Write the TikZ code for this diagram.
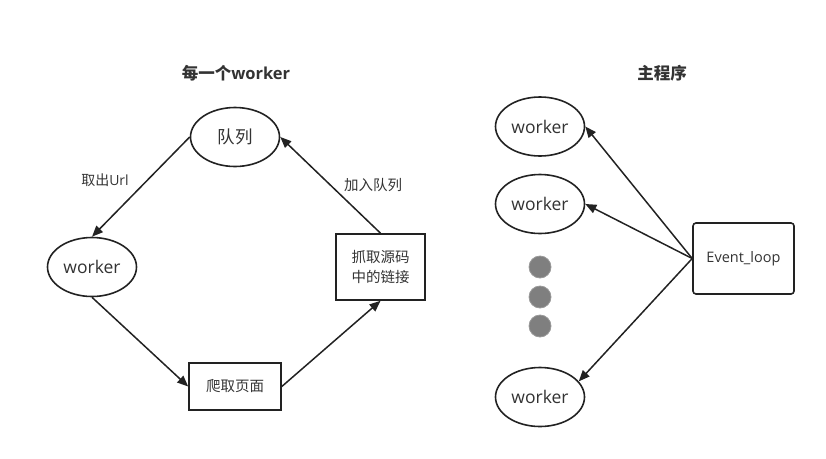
\documentclass[tikz,border=0pt]{standalone}
\usepackage{fontspec}
\setmainfont{Open Sans}
\newfontfamily\cjk{Noto Sans CJK SC}
\usetikzlibrary{shapes.geometric,arrows.meta}
\definecolor{txt}{HTML}{333333}
\definecolor{ln}{HTML}{222222}
\definecolor{dotc}{HTML}{7F7F7F}
\definecolor{dotb}{HTML}{999999}
\tikzset{
  ell/.style={ellipse,draw=ln,line width=1.6pt,minimum width=89pt,minimum height=59pt,inner sep=0pt,text=txt,font=\fontsize{17.5}{20}\selectfont},
  boxn/.style={rectangle,draw=ln,line width=1.6pt,inner sep=0pt,text=txt},
  arr/.style={draw=ln,line width=1.5pt,-{Triangle[length=11pt,width=9pt]}},
  lbl/.style={text=txt,inner sep=0pt},
  ttl/.style={text=txt,inner sep=0pt,font=\bfseries\fontsize{16.5}{19}\selectfont},
  dotn/.style={circle,fill=dotc,draw=dotb,line width=0.8pt,minimum size=22pt,inner sep=0pt}
}
\begin{document}
\begin{tikzpicture}[x=1pt,y=-1pt]
\useasboundingbox (0,0) rectangle (826,458);
% left
\node[ttl] (t1) at (236,73) {{\cjk\bfseries 每一个}worker};
\node[ell] (q) at (235,137) {\cjk 队列};
\node[ell] (w0) at (92,267) {worker};
\node[boxn,minimum width=92pt,minimum height=47pt,font=\cjk\fontsize{14.5}{17}\selectfont] (p) at (235,386.5) {爬取页面};
\node[boxn,minimum width=89pt,minimum height=66pt,font=\cjk\fontsize{14.5}{20}\selectfont,align=center] (g) at (380.5,267) {抓取源码\\中的链接};
\draw[arr] (q.west) -- (w0.north);
\draw[arr] (w0.south) -- (p.west);
\draw[arr] (p.east) -- (g.south);
\draw[arr] (g.north) -- (q.east);
\node[lbl,font=\fontsize{14}{17}\selectfont] (l1) at (105,180) {{\cjk 取出}Url};
\node[lbl,font=\cjk\fontsize{14.5}{17}\selectfont] (l2) at (373,185) {加入队列};
% right
\node[ttl] (t2) at (662,73) {\cjk\bfseries 主程序};
\node[ell] (w1) at (540,126.5) {worker};
\node[ell] (w2) at (540,204) {worker};
\node[ell] (w3) at (540,397) {worker};
\node[dotn] (d1) at (540,267) {};
\node[dotn] (d2) at (540,297) {};
\node[dotn] (d3) at (540,326) {};
\node[boxn,rounded corners=3pt,minimum width=101pt,minimum height=71pt,font=\fontsize{14.5}{17}\selectfont] (e) at (743.5,258.5) {Event\_loop};
\draw[arr] (e.west) -- (w1.east);
\draw[arr] (e.west) -- (w2.east);
\draw[arr] (e.west) -- (w3.22);
\end{tikzpicture}
\end{document}
